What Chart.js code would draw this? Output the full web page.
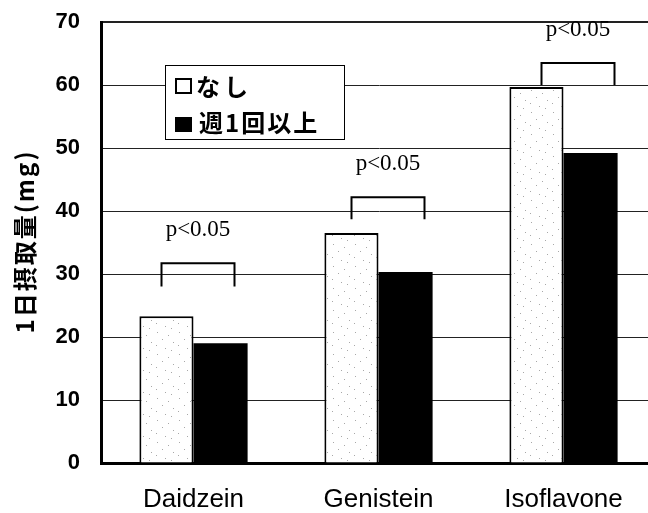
<!DOCTYPE html>
<html>
<head>
<meta charset="utf-8">
<script src="https://cdn.jsdelivr.net/npm/chart.js@4.4.1/dist/chart.umd.min.js"></script>
<style>
  html, body { margin: 0; padding: 0; background: #fff; overflow: hidden; }
  #wrap { width: 660px; height: 513px; }
</style>
</head>
<body>
<div id="wrap"><canvas id="intakeChart" width="660" height="513"></canvas></div>
<script>
// values (mg / day)
const categories   = ['Daidzein', 'Genistein', 'Isoflavone'];
const seriesNames  = ['なし', '週1回以上'];
const noneValues   = [23.3, 36.5, 59.7];
const weeklyValues = [19.0, 30.3, 49.2];
const yTicks       = [0, 10, 20, 30, 40, 50, 60, 70];
const sigLabels    = ['p<0.05', 'p<0.05', 'p<0.05'];
const bracketTop   = [31.7, 42.2, 63.5];
const bracketFoot  = [28.0, 38.7, 60.0];
const yTitle       = '1日摂取量(mg)';

const JP_FONT = '"Noto Sans CJK JP", "Noto Sans", sans-serif';

// sparse stipple fill used for the light bars
const makeStipple = () => {
  const c = document.createElement('canvas');
  c.width = 22; c.height = 22;
  const g = c.getContext('2d');
  g.fillStyle = '#fff';
  g.fillRect(0, 0, 22, 22);
  g.fillStyle = '#a8a8a8';
  [[3,2],[14,5],[8,9],[19,12],[2,15],[11,18],[17,20]].forEach(([x, y]) => g.fillRect(x, y, 1, 1));
  return g.createPattern(c, 'repeat');
};

const spaced = (ctx, px) => { if ('letterSpacing' in ctx) ctx.letterSpacing = px; };

const yTitlePlugin = {
  id: 'yTitle',
  afterDraw(chart) {
    const { ctx, chartArea } = chart;
    ctx.save();
    ctx.translate(25, (chartArea.top + chartArea.bottom) / 2 - 1);
    ctx.rotate(-Math.PI / 2);
    ctx.font = `bold 24px ${JP_FONT}`;
    spaced(ctx, '2px');
    ctx.fillStyle = '#000';
    ctx.textAlign = 'center';
    ctx.textBaseline = 'middle';
    ctx.fillText(yTitle, 0, 0);
    ctx.restore();
  }
};

const sigPlugin = {
  id: 'sig',
  afterDatasetsDraw(chart) {
    const { ctx } = chart;
    const xs = chart.scales.x, ys = chart.scales.y;
    ctx.save();
    ctx.strokeStyle = '#000';
    ctx.lineWidth = 2;
    categories.forEach((cat, i) => {
      const cx = xs.getPixelForValue(i);
      const left = cx - 32 + 5 * i, right = cx + 41 + 5 * i;
      const top = ys.getPixelForValue(bracketTop[i]);
      const foot = ys.getPixelForValue(bracketFoot[i]);
      ctx.beginPath();
      ctx.moveTo(left, foot);
      ctx.lineTo(left, top);
      ctx.lineTo(right, top);
      ctx.lineTo(right, foot);
      ctx.stroke();
      ctx.font = '23px "Liberation Serif", "Times New Roman", serif';
      ctx.fillStyle = '#000';
      ctx.textAlign = 'center';
      ctx.textBaseline = 'middle';
      ctx.fillText(sigLabels[i], (left + right) / 2, top - 33);
    });
    ctx.restore();
  }
};

const legendPlugin = {
  id: 'boxLegend',
  afterDatasetsDraw(chart) {
    const { ctx } = chart;
    ctx.save();
    ctx.fillStyle = '#fff';
    ctx.fillRect(165, 65, 179, 74);
    ctx.strokeStyle = '#000';
    ctx.lineWidth = 1;
    ctx.strokeRect(165.5, 65.5, 179, 74);
    // marker 1: open square
    ctx.lineWidth = 2;
    ctx.strokeRect(176, 79, 15, 14);
    // marker 2: filled square
    ctx.fillStyle = '#000';
    ctx.fillRect(175, 117, 17, 15);
    ctx.font = `bold 24px ${JP_FONT}`;
    spaced(ctx, '4px');
    ctx.textBaseline = 'middle';
    ctx.fillText(seriesNames[0], 196, 87);
    spaced(ctx, '2px');
    ctx.fillText(seriesNames[1], 199, 123);
    ctx.restore();
  }
};

new Chart(document.getElementById('intakeChart'), {
  type: 'bar',
  data: {
    labels: categories,
    datasets: [
      {
        label: seriesNames[0],
        data: noneValues,
        backgroundColor: makeStipple(),
        borderColor: '#000',
        borderWidth: { top: 2, left: 2, right: 2, bottom: 0 },
        borderSkipped: 'bottom'
      },
      {
        label: seriesNames[1],
        data: weeklyValues,
        backgroundColor: '#000',
        borderWidth: 0
      }
    ]
  },
  options: {
    responsive: false,
    animation: false,
    categoryPercentage: 0.585,
    barPercentage: 1.0,
    layout: { padding: { top: 22, right: 4, left: 0, bottom: 0 } },
    plugins: {
      legend: { display: false },
      tooltip: { enabled: false }
    },
    scales: {
      x: {
        grid: { display: false, drawTicks: false },
        border: { display: true, color: '#000', width: 3 },
        ticks: {
          color: '#000',
          padding: 21,
          font: { family: '"Liberation Sans", Arial, sans-serif', size: 26 }
        },
        afterFit: s => { s.height = 50; }
      },
      y: {
        min: 0,
        max: 70,
        afterBuildTicks: s => { s.ticks = yTicks.map(v => ({ value: v })); },
        grid: {
          color: '#222',
          lineWidth: c => (c.tick && c.tick.value === 70 ? 2 : 1),
          drawTicks: false
        },
        border: { display: true, color: '#000', width: 3 },
        ticks: {
          color: '#000',
          padding: 21,
          font: { family: '"Liberation Sans", Arial, sans-serif', size: 22, weight: 'bold' }
        },
        // fixed axis width; drop the label overhang so the plot top sits where the original does
        afterFit: s => { s.width = 101; s.paddingTop = 0; s.paddingBottom = 0; }
      }
    }
  },
  plugins: [yTitlePlugin, sigPlugin, legendPlugin]
});
</script>
</body>
</html>
